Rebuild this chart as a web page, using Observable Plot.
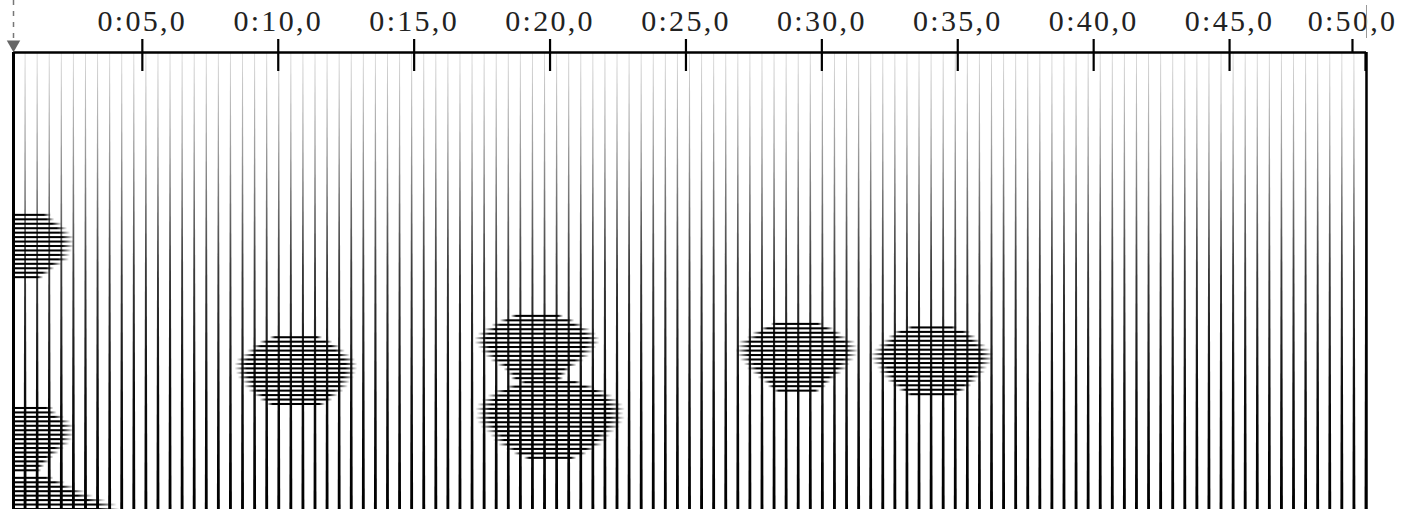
<!DOCTYPE html>
<html><head><meta charset="utf-8">
<script src="https://cdn.jsdelivr.net/npm/d3@7"></script>
<script src="https://cdn.jsdelivr.net/npm/@observablehq/plot@0.6"></script>
<style>
body{margin:0;background:#fff}
#chart svg{display:block}
#chart text{letter-spacing:2.3px}
</style>
</head><body>
<svg width="0" height="0" style="position:absolute">
<defs>
<linearGradient id="vgrad" x1="0" y1="0" x2="0" y2="1">
 <stop offset="0" stop-color="#dcdcdc"/>
 <stop offset="0.22" stop-color="#9a9a9a"/>
 <stop offset="0.48" stop-color="#3a3a3a"/>
 <stop offset="0.75" stop-color="#0c0c0c"/>
 <stop offset="1" stop-color="#000"/>
</linearGradient>
<linearGradient id="hgrad" x1="0" y1="0" x2="1" y2="0">
 <stop offset="0" stop-color="#000" stop-opacity="0"/>
 <stop offset="0.1" stop-color="#000" stop-opacity="1"/>
 <stop offset="0.9" stop-color="#000" stop-opacity="1"/>
 <stop offset="1" stop-color="#000" stop-opacity="0"/>
</linearGradient>
</defs></svg>
<div id="chart"></div>
<script>
// ---- data ----
const bpm = 135;                 // beat grid tempo
const beatOffset = 0.26;         // time (s) of first visible beat = left edge
const beatCount = 112;           // beats across the window
const pitchMax = 102.7;          // pitch rows visible (bottom = 0)
const tickTimes = [5, 10, 15, 20, 25, 30, 35, 40, 45, 50];

// note blobs: centre time (s), top row pitch, half-length (s) of each row, top to bottom
const blobNames   = ["A", "B", "C", "D", "E", "F", "G", "H"];
const blobTimes   = [0.30, 10.67, 19.54, 20.02, 29.10, 34.07, 0.30, 0.30];
const blobTopRows = [66.1, 38.6, 43.4, 28.5, 41.6, 40.8, 22.7, 7.0];
const blobHalfLengths = [
  [1.36, 1.48, 1.75, 1.95, 2.06, 2.20, 2.20, 2.20, 2.13, 2.06, 2.02, 1.75, 1.48, 1.30, 1.07],
  [0.96, 1.34, 1.61, 1.80, 1.98, 2.18, 2.26, 2.26, 2.21, 2.14, 1.98, 1.91, 1.75, 1.53, 1.34, 1.07],
  [0.96, 1.37, 1.68, 1.95, 2.18, 2.30, 2.30, 2.18, 2.07, 1.91, 1.72, 1.45, 1.23, 1.07, 0.96],
  [1.14, 1.61, 2.07, 2.30, 2.52, 2.68, 2.75, 2.71, 2.75, 2.68, 2.57, 2.37, 2.21, 2.10, 1.91, 1.64, 1.34, 0.96],
  [0.96, 1.34, 1.64, 1.84, 2.14, 2.21, 2.26, 2.21, 2.10, 1.95, 1.84, 1.64, 1.45, 1.23, 1.07, 0.84],
  [0.92, 1.41, 1.61, 1.80, 1.98, 2.14, 2.26, 2.26, 2.18, 2.03, 1.95, 1.80, 1.64, 1.45, 1.23, 0.96],
  [1.45, 1.57, 1.84, 2.07, 2.21, 2.21, 2.21, 2.14, 2.03, 1.84, 1.64, 1.45, 1.30, 1.11, 1.00],
  [1.45, 1.87, 2.21, 2.60, 2.91, 3.37, 3.78, 3.87]
];

// ---- layout ----
const W = 1425, H = 509;
const mL = 13, mR = 59, mT = 52, mB = 0;
const period = 60 / bpm;
const tStart = beatOffset, tEnd = beatOffset + beatCount * period;
const secPerPx = (tEnd - tStart) / (W - mL - mR);
const rowPerPx = pitchMax / (H - mT - mB);

// beat lines as thin tapered areas
const beatPts = [];
for (let k = 0; k <= beatCount; k++) {
  const t = tStart + k * period;
  beatPts.push({k, p: pitchMax, xl: t - 0.45 * secPerPx, xr: t + 0.45 * secPerPx});
  beatPts.push({k, p: 0, xl: t - 1.45 * secPerPx, xr: t + 1.45 * secPerPx});
}

// blob rows
const rows = [];
blobNames.forEach((name, i) => {
  blobHalfLengths[i].forEach((hw, j) => {
    const p = blobTopRows[i] - j;
    rows.push({name, x1: blobTimes[i] - hw, x2: blobTimes[i] + hw,
               y1: p - 0.23, y2: p + 0.23});
  });
});

const fmt = d => `0:${String(d).padStart(2, "0")},0`;
const axisStyle = {anchor: "top", tickSize: 14, tickPadding: 8, strokeWidth: 2.2,
  tickFormat: fmt, fontSize: 30, fontFamily: "Liberation Serif", fill: "#222"};

const chart = Plot.plot({
  width: W, height: H,
  marginLeft: mL, marginRight: mR, marginTop: mT, marginBottom: mB,
  x: {domain: [tStart, tEnd], axis: null},
  y: {domain: [0, pitchMax], axis: null},
  style: {background: "#fff"},
  marks: [
    Plot.areaX(beatPts, {y: "p", x1: "xl", x2: "xr", z: "k", fill: "url(#vgrad)", clip: true}),
    Plot.rect(rows, {x1: "x1", x2: "x2", y1: "y1", y2: "y2", fill: "url(#hgrad)", clip: true}),
    Plot.ruleX([tStart], {stroke: "#000", strokeWidth: 3}),
    Plot.ruleX([tEnd], {stroke: "#000", strokeWidth: 2.5}),
    Plot.ruleY([pitchMax], {stroke: "#000", strokeWidth: 2.5}),
    Plot.ruleX(tickTimes, {y1: pitchMax, y2: pitchMax - 19 * rowPerPx, stroke: "#000", strokeWidth: 2.2}),
    Plot.axisX(tickTimes.slice(0, -1), axisStyle),
    Plot.axisX(tickTimes.slice(-1), {...axisStyle, dx: -13}),
    // end marker line
    Plot.ruleX([tEnd], {y1: pitchMax + 47 * rowPerPx, y2: pitchMax + 14 * rowPerPx, stroke: "#999", strokeWidth: 1}),
    // start / playhead marker
    Plot.ruleX([tStart], {y1: pitchMax + 52 * rowPerPx, y2: pitchMax + 12 * rowPerPx,
      stroke: "#777", strokeWidth: 1.5, strokeDasharray: "5,6"}),
    Plot.dot([tStart], {x: d => d, y: pitchMax + 8 * rowPerPx, symbol: "triangle", rotate: 180,
      r: 5, fill: "#666", stroke: "none"})
  ]
});
document.getElementById("chart").appendChild(chart);
</script>
</body></html>
